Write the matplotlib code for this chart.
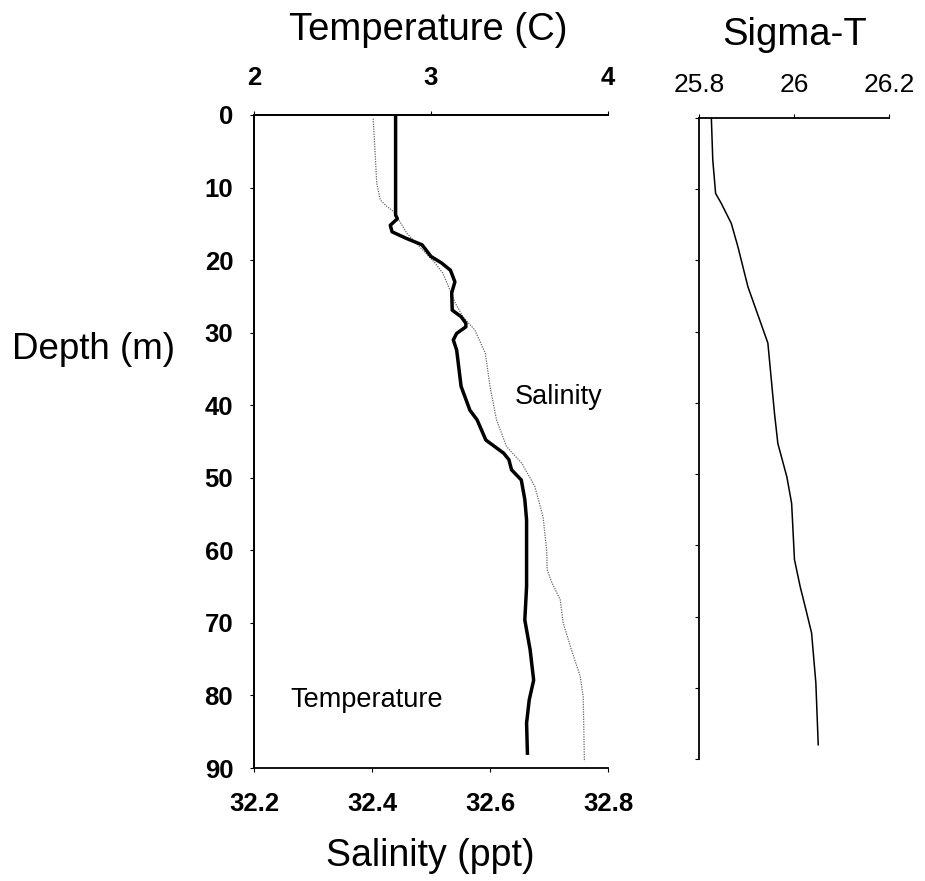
import matplotlib
matplotlib.use("Agg")
import matplotlib.pyplot as plt

plt.rcParams["font.family"] = ["Liberation Sans", "DejaVu Sans"]

# Temperature profile (deg C) vs depth (m)
temp_depth = [0, 13.8, 14.3, 15.2, 16.1, 17.0, 17.9, 19.5, 20.4, 21.4, 23.0, 24.5,
              26.9, 27.8, 28.7, 29.2, 30.1, 31.0, 32.4, 37.4, 40.7, 42.0, 44.8, 46.6,
              47.5, 48.9, 50.3, 53.0, 55.8, 60.0, 65.0, 69.6, 73.7, 77.9, 80.6, 83.8, 88.2]
temperature = [2.80, 2.80, 2.81, 2.77, 2.78, 2.86, 2.95, 3.00, 3.06, 3.11, 3.135, 3.117,
               3.12, 3.17, 3.197, 3.197, 3.145, 3.126, 3.145, 3.17, 3.22, 3.26, 3.31, 3.41,
               3.44, 3.455, 3.51, 3.53, 3.54, 3.54, 3.54, 3.53, 3.56, 3.58, 3.555, 3.54, 3.545]

# Salinity profile (ppt) vs depth (m)
sal_depth = [0.5, 4.8, 9.4, 11.7, 12.6, 13.3, 16.3, 20.4, 21.8, 24.1, 25.9, 27.8, 29.6,
             32.8, 37.4, 42.0, 45.7, 48.0, 51.2, 55.4, 60.0, 62.7, 64.5, 66.8, 70.0,
             73.7, 77.4, 80.2, 89.1]
salinity = [32.402, 32.405, 32.408, 32.414, 32.425, 32.437, 32.459, 32.507, 32.520,
            32.532, 32.541, 32.554, 32.574, 32.592, 32.600, 32.611, 32.628, 32.654,
            32.676, 32.690, 32.696, 32.697, 32.705, 32.719, 32.724, 32.738, 32.753,
            32.758, 32.760]

# Sigma-T profile vs depth (m)
sig_depth = [0, 5.9, 10.6, 12.0, 14.8, 18.1, 23.7, 28.4, 31.6, 38.7, 41.5, 45.7, 50.4,
             54.1, 62.0, 65.8, 69.0, 72.3, 79.3, 88.0]
sigma_t = [25.826, 25.829, 25.835, 25.847, 25.868, 25.882, 25.903, 25.928, 25.945,
           25.955, 25.959, 25.966, 25.985, 25.995, 26.001, 26.013, 26.025, 26.037,
           26.046, 26.051]

depth_ticks = [0, 10, 20, 30, 40, 50, 60, 70, 80, 90]
temp_ticks = [2, 3, 4]
sal_ticks = [32.2, 32.4, 32.6, 32.8]
sig_ticks = [25.8, 26.0, 26.2]
sig_ticklabels = ["25.8", "26", "26.2"]

W, H = 925, 881
fig = plt.figure(figsize=(W / 100, H / 100), dpi=100)

def box(x0, y0, x1, y1):
    return [x0 / W, 1 - y1 / H, (x1 - x0) / W, (y1 - y0) / H]

# Main panel: salinity on the bottom axis, temperature on the top axis
ax_s = fig.add_axes(box(254, 115, 608, 768))
ax_t = ax_s.twiny()

ax_s.plot(salinity, sal_depth, color="#666666", lw=0.9, ls=(0, (1.0, 1.0)))
ax_t.plot(temperature, temp_depth, color="black", lw=2.5,
          solid_joinstyle="round", solid_capstyle="butt")

for a in (ax_s, ax_t):
    a.set_ylim(90, 0)
    a.spines["right"].set_visible(False)
    for s in a.spines.values():
        s.set_linewidth(1.3)

ax_s.set_xlim(32.2, 32.8)
ax_s.set_xticks(sal_ticks)
ax_s.set_xticklabels([f"{v:.1f}" for v in sal_ticks], fontsize=18.5, fontweight="bold")
ax_s.set_yticks(depth_ticks)
ax_s.set_yticklabels([str(v) for v in depth_ticks], fontsize=18.5, fontweight="bold")
ax_s.tick_params(axis="x", direction="out", length=3, pad=14)
ax_s.tick_params(axis="y", direction="out", length=3, pad=12)

ax_t.set_xlim(2, 4)
ax_t.set_xticks(temp_ticks)
ax_t.set_xticklabels([str(v) for v in temp_ticks], fontsize=18.5, fontweight="bold")
ax_t.tick_params(axis="x", direction="out", length=3, pad=15)
ax_t.spines["bottom"].set_visible(False)

ax_s.text(32.642, 38.9, "Salinity", fontsize=19.5, va="center", ha="left")
ax_s.text(32.261, 80.6, "Temperature", fontsize=19.5, va="center", ha="left")

# Sigma-T panel
ax_g = fig.add_axes(box(699, 118, 889, 759))
ax_g.plot(sigma_t, sig_depth, color="black", lw=1.1)
ax_g.set_xlim(25.8, 26.2)
ax_g.set_ylim(90, 0)
ax_g.xaxis.tick_top()
ax_g.set_xticks(sig_ticks)
ax_g.set_xticklabels(sig_ticklabels, fontsize=19)
ax_g.set_yticks(depth_ticks)
ax_g.set_yticklabels([])
ax_g.tick_params(axis="x", direction="out", length=3, pad=12)
ax_g.tick_params(axis="y", direction="out", length=3)
ax_g.spines["right"].set_visible(False)
ax_g.spines["bottom"].set_visible(False)
for s in ax_g.spines.values():
    s.set_linewidth(1.3)

# Titles and axis labels
fig.text(428 / W, 1 - 30 / H, "Temperature (C)", fontsize=27.5, ha="center", va="center")
fig.text(795 / W, 1 - 35 / H, "Sigma-T", fontsize=27.5, ha="center", va="center")
fig.text(430 / W, 1 - 856 / H, "Salinity (ppt)", fontsize=27, ha="center", va="center")
fig.text(94 / W, 1 - 350 / H, "Depth (m)", fontsize=26.5, ha="center", va="center")

fig.savefig("out.png", dpi=100, facecolor="white")
